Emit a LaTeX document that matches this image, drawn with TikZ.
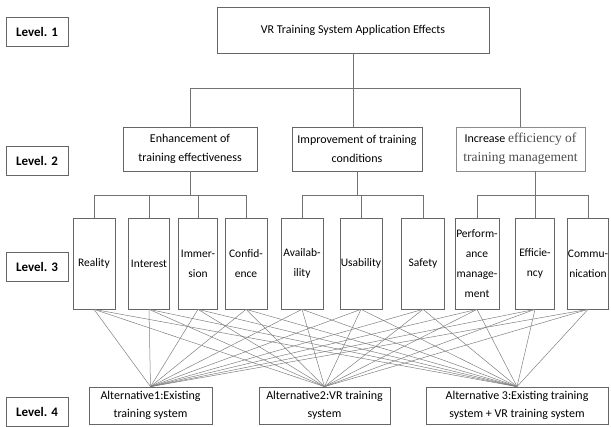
\documentclass[tikz,border=0pt]{standalone}
\usepackage{fontspec}
\setmainfont{Carlito}
\newfontfamily\serifpart{Liberation Serif}
\usetikzlibrary{shadows}
\begin{document}
\begin{tikzpicture}[x=1pt,y=-1pt,
  box/.style={draw=black!60, line width=0.7pt, fill=white, inner sep=0pt, align=center,
    drop shadow={shadow xshift=0.8pt, shadow yshift=-0.8pt, opacity=0.3, fill=black}},
  lvl/.style={box, font=\fontsize{13}{15}\selectfont\bfseries, minimum width=62pt, minimum height=29pt},
  ltwo/.style={box, font=\fontsize{12}{19}\selectfont, minimum height=44pt},
  lthree/.style={box, font=\fontsize{11.5}{20}\selectfont, minimum height=91pt},
  lfour/.style={box, font=\fontsize{12}{18.5}\selectfont, minimum height=37pt},
  link/.style={draw=black!55, line width=0.6pt},
  mesh/.style={draw=black!50, line width=0.5pt}]
\useasboundingbox (0,0) rectangle (611,427);
% level labels
\node[lvl] (L1) at (37,31.5) {Level. 1};
\node[lvl] (L2) at (37,161) {Level. 2};
\node[lvl] (L3) at (37,266.5) {Level. 3};
\node[lvl] (L4) at (37,411.5) {Level. 4};
% level 1
\node[box, minimum width=272pt, minimum height=46pt, font=\fontsize{12}{14}\selectfont] (top) at (353,30) {VR Training System Application Effects};
% level 2
\node[ltwo, minimum width=134pt] (e1) at (190,149) {Enhancement of\\training effectiveness};
\node[ltwo, minimum width=130pt] (e2) at (357,149) {Improvement of training\\conditions};
\node[ltwo, minimum width=129pt, draw=black!45] (e3) at (520.5,149) {Increase {\serifpart\fontsize{13.5}{19}\selectfont\color{black!70}efficiency of}\\{\serifpart\fontsize{13.5}{19}\selectfont\color{black!70}training management}};
% level 3
\node[lthree, minimum width=42pt] (r1) at (94,263.5) {Reality};
\node[lthree, minimum width=41pt] (r2) at (149,263.5) {Interest};
\node[lthree, minimum width=39pt] (r3) at (198,263.5) {Immer-\\sion};
\node[lthree, minimum width=42pt] (r4) at (246,263.5) {Confid-\\ence};
\node[lthree, minimum width=42pt] (r5) at (302,263.5) {Availab-\\ility};
\node[lthree, minimum width=42pt] (r6) at (361,263.5) {Usability};
\node[lthree, minimum width=43pt] (r7) at (423,263.5) {Safety};
\node[lthree, minimum width=44pt] (r8) at (477,263.5) {Perform-\\ance\\manage-\\ment};
\node[lthree, minimum width=39pt] (r9) at (535,263.5) {Efficie-\\ncy};
\node[lthree, minimum width=41pt] (r10) at (588,263.5) {Commu-\\nication};
% level 4
\node[lfour, minimum width=123pt] (a1) at (150.5,405.5) {Alternative1:Existing\\training system};
\node[lfour, minimum width=131pt] (a2) at (324.5,405.5) {Alternative2:VR training\\system};
\node[lfour, minimum width=182pt] (a3) at (517,405.5) {Alternative 3:Existing training\\system + VR training system};
% level 1 -> level 2
\draw[link] (top.south) -- ++(0,35) coordinate (h1);
\draw[link] (e1.north) |- (h1) -| (e3.north);
\draw[link] (h1) -- (h1 |- e2.north);
% level 2 -> level 3
\draw[link] (e1.south) -- ++(0,24) coordinate (g1);
\draw[link] (r1.north) |- (g1) -| (r4.north);
\draw[link] (r2.north) -- (r2.north |- g1);
\draw[link] (r3.north) -- (r3.north |- g1);
\draw[link] (e2.south) -- ++(0,24) coordinate (g2);
\draw[link] (r5.north) |- (g2) -| (r7.north);
\draw[link] (r6.north) -- (r6.north |- g2);
\coordinate (g3) at (r9.north |- g1);
\draw[link] (e3.south -| r9.north) -- (r9.north);
\draw[link] (r8.north) |- (g3) -| (r10.north);
% level 3 -> level 4
\foreach \r in {r1,r2,r3,r4,r5,r6,r7,r8,r9,r10}
  \foreach \a in {a1,a2,a3}
    \draw[mesh] (\r.south) -- (\a.north);
\end{tikzpicture}
\end{document}
